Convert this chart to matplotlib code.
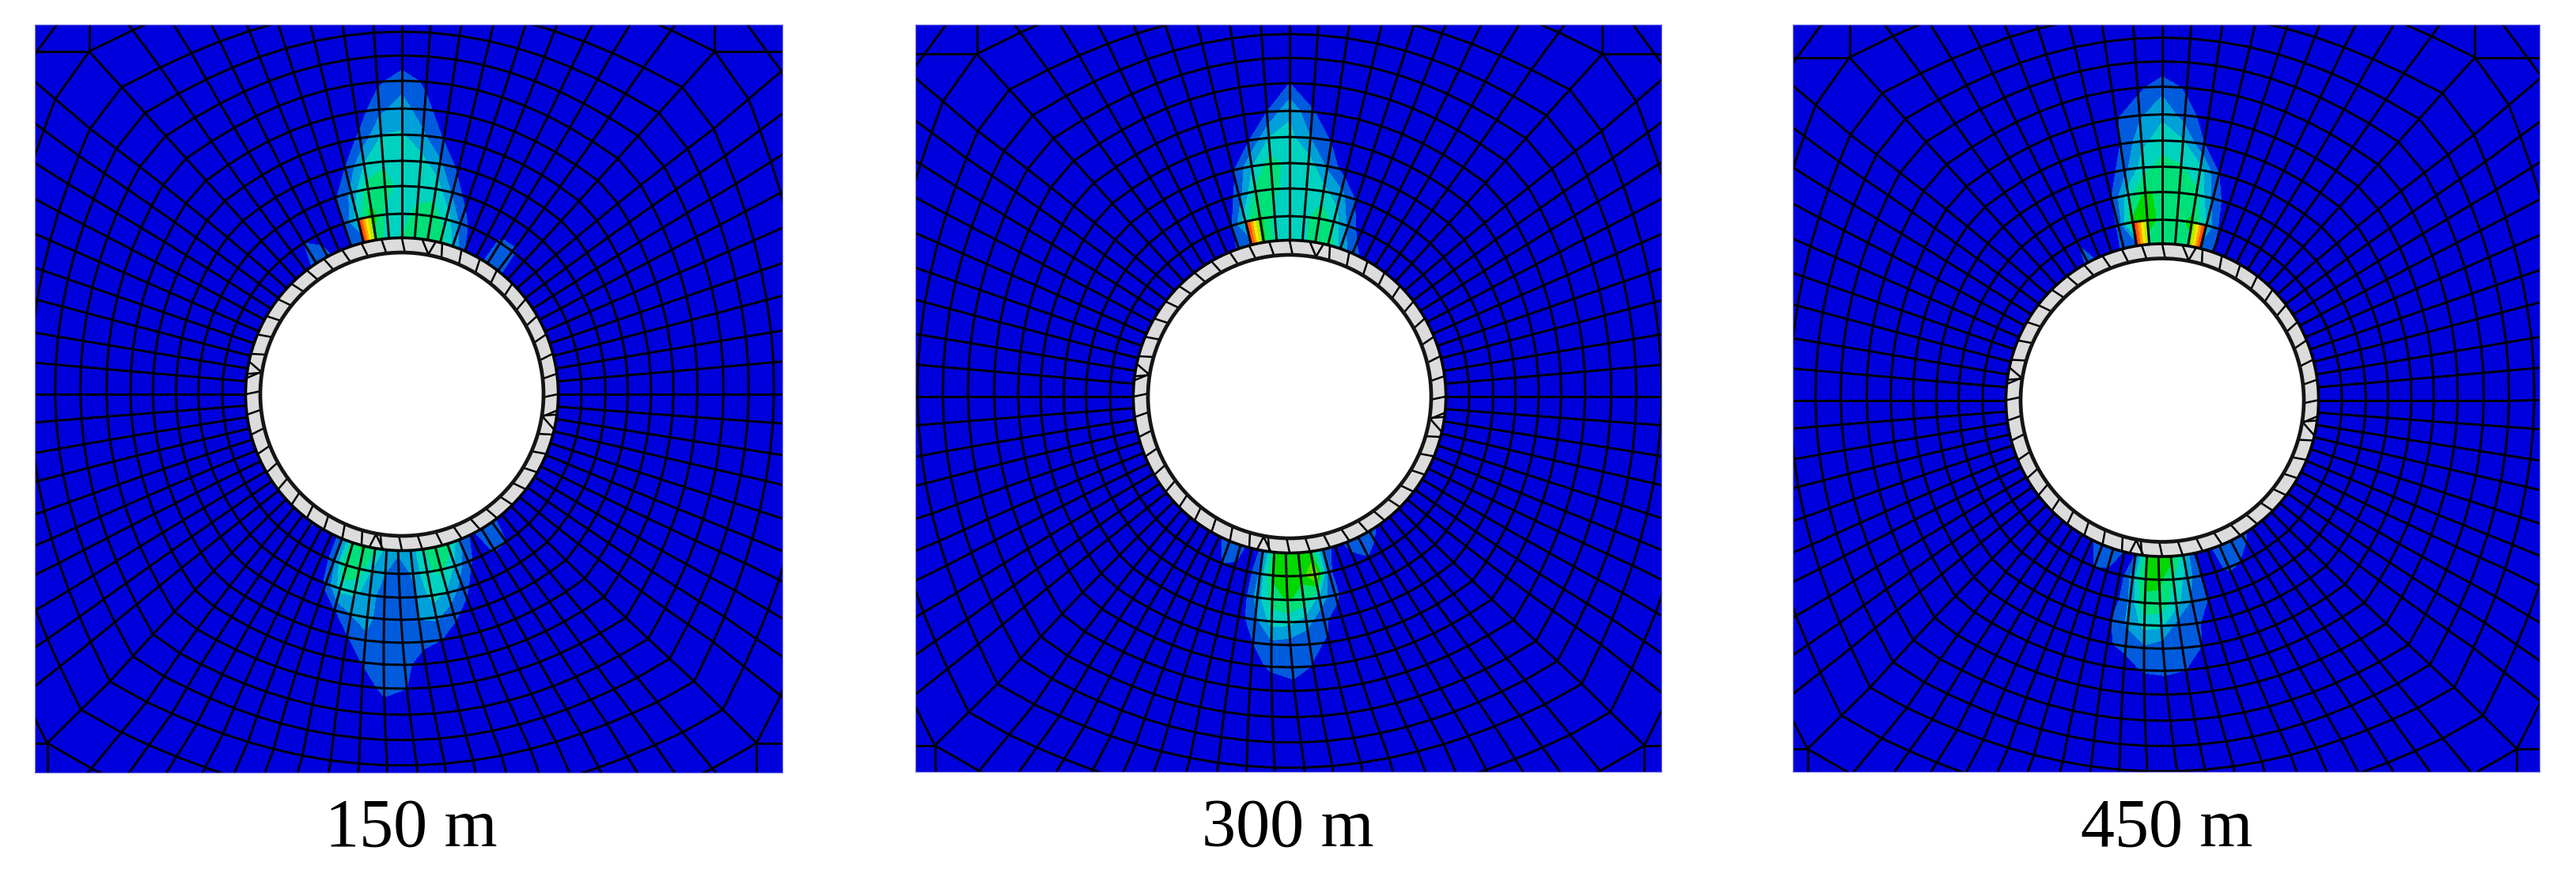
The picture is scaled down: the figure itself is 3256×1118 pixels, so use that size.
import numpy as np
import matplotlib
matplotlib.use("Agg")
import matplotlib.pyplot as plt

# подписи панелей
labels = ["150 m", "300 m", "450 m"]

# радиусы колец сетки (пиксели), сверху и снизу от тоннеля, и их сплющивание к углам
ring_top = [198, 228, 263, 295, 328, 361, 396, 428, 458, 490, 540, 580, 720]
ring_bottom = [198, 227, 257, 285, 314, 342, 372, 405, 437, 469, 516, 573, 720]
flat_top = [0, 0, 0.005, 0.02, 0.025, 0.034, 0.04, 0.055, 0.08, 0.108, 0.14, 0.15, 0.15]
flat_bottom = [0, 0.01, 0.02, 0.035, 0.045, 0.058, 0.075, 0.084, 0.09, 0.107, 0.105, 0.10, 0.10]

# углы лучей на границе панели, от верха по часовой стрелке до низа (правая половина)
spoke_angle = [0, 4.4, 9.1, 13.9, 18.5, 22.8, 27.3, 31.7, 36.5, 42.4,
               49.6, 53.6, 57.8, 62, 66.4, 71, 75.5, 80.5, 85.1, 90,
               94.4, 99.1, 103.4, 108.1, 112.4, 116.2, 120.5, 124.6, 128.5, 134.5,
               140.3, 144.2, 148.1, 152.2, 156.1, 160.1, 164.6, 169, 173.4, 177.7]
N_SPOKES = 79
# углы тех же лучей у обделки (опорные точки)
ring_idx = [0, 19, 39, 60, 79]
ring_ang = [0, 90, 181.4, 270, 360]

# номера лучей: над тоннелем слева направо и под тоннелем слева направо
top_spokes = list(range(-9, 10))
bottom_spokes = list(range(48, 29, -1))

# поле над тоннелем, строки - кольца от обделки наружу
top_150 = [
    [0, 0.6, 1.3, 1.2, 0.5, 1.0, 1.2, 4.8, 3.3, 4.0, 4.4, 4.5, 4.4, 2.8, 1.0, 0.4, 1.3, 1.3, 0.4],
    [0, 0.3, 1.0, 0.8, 0.4, 1.0, 3.5, 5.5, 3.5, 3.5, 4.4, 4.5, 3.6, 1.8, 0.3, 0.2, 1.2, 1.2, 0.2],
    [0, 0, 0, 0, 0, 0.8, 2.2, 4.5, 4.5, 3.5, 3.3, 3.6, 1.8, 0.4, 0, 0, 0, 0, 0],
    [0, 0, 0, 0, 0, 0.2, 1.0, 3.0, 3.8, 3.5, 3.4, 2.2, 0.7, 0, 0, 0, 0, 0, 0],
    [0, 0, 0, 0, 0, 0, 0.2, 1.2, 3.0, 3.1, 2.2, 0.9, 0.1, 0, 0, 0, 0, 0, 0],
    [0, 0, 0, 0, 0, 0, 0, 0.4, 1.7, 2.5, 1.3, 0.4, 0, 0, 0, 0, 0, 0, 0],
    [0, 0, 0, 0, 0, 0, 0, 0, 0.8, 1.5, 0.8, 0, 0, 0, 0, 0, 0, 0, 0],
    [0, 0, 0, 0, 0, 0, 0, 0, 0, 0.3, 0, 0, 0, 0, 0, 0, 0, 0, 0],
]
bottom_150 = [
    [0, 1.2, 0.3, 0.4, 1.5, 4.5, 5.2, 4.0, 2.6, 2.2, 2.4, 3.8, 4.8, 4.5, 2.2, 0.8, 1.3, 1.3, 0.5],
    [0, 0.3, 0, 0.2, 1.6, 5.0, 4.6, 2.8, 2.0, 1.2, 2.2, 3.8, 4.3, 2.8, 1.2, 0.5, 1.1, 1.0, 0.2],
    [0, 0, 0, 0, 1.2, 3.4, 3.2, 2.5, 1.3, 1.1, 1.8, 3.4, 2.8, 1.4, 0.3, 0, 0, 0, 0],
    [0, 0, 0, 0, 0.2, 0.9, 2.0, 2.3, 1.4, 1.2, 2.0, 2.2, 1.3, 0.4, 0, 0, 0, 0, 0],
    [0, 0, 0, 0, 0, 0.2, 0.9, 1.8, 1.9, 1.2, 1.1, 1.0, 0.3, 0, 0, 0, 0, 0, 0],
    [0, 0, 0, 0, 0, 0, 0.2, 1.1, 1.9, 1.1, 0.8, 0.1, 0, 0, 0, 0, 0, 0, 0],
    [0, 0, 0, 0, 0, 0, 0, 0.4, 1.3, 1.0, 0.1, 0, 0, 0, 0, 0, 0, 0, 0],
    [0, 0, 0, 0, 0, 0, 0, 0, 0.4, 0.2, 0, 0, 0, 0, 0, 0, 0, 0, 0],
]
top_300 = [
    [0, 0, 0, 0, 0.2, 1.2, 1.2, 5.2, 3.6, 3.3, 3.5, 4.8, 4.8, 2.6, 1.5, 0.6, 0.5, 0, 0],
    [0, 0, 0, 0, 0, 0.8, 3.6, 5.3, 3.6, 3.3, 3.6, 4.8, 3.6, 1.8, 0.4, 0, 0, 0, 0],
    [0, 0, 0, 0, 0, 0.2, 1.4, 4.2, 4.3, 3.4, 3.4, 3.3, 2.4, 0.8, 0, 0, 0, 0, 0],
    [0, 0, 0, 0, 0, 0, 0.8, 2.9, 4.5, 3.6, 3.5, 1.8, 0.4, 0, 0, 0, 0, 0, 0],
    [0, 0, 0, 0, 0, 0, 0.1, 0.8, 3.0, 3.3, 2.0, 0.9, 0.1, 0, 0, 0, 0, 0, 0],
    [0, 0, 0, 0, 0, 0, 0, 0.1, 1.0, 2.8, 1.1, 0.2, 0, 0, 0, 0, 0, 0, 0],
    [0, 0, 0, 0, 0, 0, 0, 0, 0.1, 1.0, 0.2, 0, 0, 0, 0, 0, 0, 0, 0],
    [0, 0, 0, 0, 0, 0, 0, 0, 0, 0, 0, 0, 0, 0, 0, 0, 0, 0, 0],
]
bottom_300 = [
    [0, 0, 0, 0.6, 2.0, 1.5, 0.3, 1.3, 4.9, 5.3, 5.3, 5.0, 2.0, 0.5, 1.2, 1.9, 1.6, 0.6, 0],
    [0, 0, 0, 0.2, 1.0, 0.8, 0.2, 2.2, 5.2, 5.3, 5.2, 7.5, 1.2, 0.2, 0.7, 0.9, 0.2, 0, 0],
    [0, 0, 0, 0, 0, 0, 0.3, 2.5, 4.4, 5.1, 4.6, 2.6, 1.3, 0, 0, 0, 0, 0, 0],
    [0, 0, 0, 0, 0, 0, 0.5, 1.7, 3.4, 3.3, 2.4, 1.2, 0.4, 0, 0, 0, 0, 0, 0],
    [0, 0, 0, 0, 0, 0, 0.3, 1.0, 1.7, 1.4, 1.2, 0.9, 0.1, 0, 0, 0, 0, 0, 0],
    [0, 0, 0, 0, 0, 0, 0, 0.6, 1.2, 1.4, 0.95, 0.1, 0, 0, 0, 0, 0, 0, 0],
    [0, 0, 0, 0, 0, 0, 0, 0, 0.3, 0.6, 0.4, 0, 0, 0, 0, 0, 0, 0, 0],
    [0, 0, 0, 0, 0, 0, 0, 0, 0, 0, 0, 0, 0, 0, 0, 0, 0, 0, 0],
]
top_450 = [
    [0, 0, 0, 1.3, 0.8, 0.5, 1.2, 1.3, 4.6, 4.3, 4.4, 4.6, 1.4, 1.0, 0.3, 0, 0, 0, 0],
    [0, 0, 0, 0.9, 0.3, 0.2, 1.1, 5.2, 5.4, 4.7, 4.6, 5.3, 3.0, 0.5, 0, 0, 0, 0, 0],
    [0, 0, 0, 0, 0, 0, 1.0, 3.5, 5.2, 4.7, 4.7, 4.2, 1.6, 0.4, 0, 0, 0, 0, 0],
    [0, 0, 0, 0, 0, 0, 0.3, 1.6, 3.6, 4.4, 4.1, 3.4, 1.0, 0, 0, 0, 0, 0, 0],
    [0, 0, 0, 0, 0, 0, 0.1, 1.0, 2.7, 3.5, 3.1, 1.0, 0.2, 0, 0, 0, 0, 0, 0],
    [0, 0, 0, 0, 0, 0, 0, 0.9, 1.8, 2.8, 1.5, 0.5, 0, 0, 0, 0, 0, 0, 0],
    [0, 0, 0, 0, 0, 0, 0, 0, 0.7, 1.6, 0.8, 0, 0, 0, 0, 0, 0, 0, 0],
    [0, 0, 0, 0, 0, 0, 0, 0, 0, 0.1, 0, 0, 0, 0, 0, 0, 0, 0, 0],
]
bottom_450 = [
    [0, 0, 0, 0.8, 2.0, 2.0, 0.9, 1.0, 5.0, 5.3, 5.3, 3.5, 0.3, 0.8, 1.3, 1.7, 1.5, 0.4, 0],
    [0, 0, 0, 0.5, 1.0, 0.8, 0.2, 2.5, 5.2, 5.3, 4.0, 2.5, 1.0, 0.6, 1.2, 0.9, 0, 0, 0],
    [0, 0, 0, 0, 0, 0, 0.5, 2.2, 4.8, 4.6, 3.4, 1.8, 1.0, 0.3, 0, 0, 0, 0, 0],
    [0, 0, 0, 0, 0, 0, 1.0, 2.2, 3.3, 3.2, 1.4, 1.2, 0.3, 0, 0, 0, 0, 0, 0],
    [0, 0, 0, 0, 0, 0, 0.9, 1.2, 1.8, 1.3, 1.2, 1.0, 0.1, 0, 0, 0, 0, 0, 0],
    [0, 0, 0, 0, 0, 0, 0.1, 0.6, 1.1, 1.1, 1.0, 0.1, 0, 0, 0, 0, 0, 0, 0],
    [0, 0, 0, 0, 0, 0, 0, 0, 0.2, 0.6, 0.4, 0, 0, 0, 0, 0, 0, 0, 0],
    [0, 0, 0, 0, 0, 0, 0, 0, 0, 0, 0, 0, 0, 0, 0, 0, 0, 0, 0],
]

# горячие элементы у обделки: левый луч, значения слева и справа
hot_150 = [(-3, 11.5, 6.0)]
hot_300 = [(-3, 11.5, 6.0)]
hot_450 = [(-2, 11.5, 6.5), (2, 6.0, 11.5)]

fields = [(top_150, bottom_150, hot_150),
          (top_300, bottom_300, hot_300),
          (top_450, bottom_450, hot_450)]

# уровни контура как в Abaqus
level_colors = ["#0000dc", "#005cdc", "#00a0d8", "#00d2c0", "#00e078", "#00d800",
                "#5adc00", "#b9eb00", "#ffe600", "#ffa000", "#ff5a00", "#f00000"]
levels = list(range(13))

W, H = 3256, 1118
# геометрия панелей в пикселях
panels = [(43.5, 989, 31, 976), (1157, 2100, 31, 975), (2266, 3210, 31, 975)]
centers = [(508, 498), (1630, 501), (2733, 505.5)]
label_x = [520, 1628, 2739]
label_y = 1069
LW = 2.1
# V-образные швы обделки: внешний и внутренний угол
lining_extra = [(12.5, 10.7), (7.5, 10.7), (187, 190.5), (192, 190.5),
                (96, 99), (103, 99), (276, 279), (282, 279)]


def mesh_point(i, n, center):
    m = n % N_SPOKES
    if m < len(spoke_angle):
        boundary = spoke_angle[m]
    else:
        boundary = 360 - spoke_angle[N_SPOKES - m]
    at_ring = np.interp(m, ring_idx, ring_ang)
    t = min((ring_bottom[i] - 198) / 271, 1)
    phi = np.radians(at_ring + (boundary - at_ring) * t)
    s = 1 / max(abs(np.cos(phi)), abs(np.sin(phi)))
    x_ = (s - 1) / 0.414
    w = ((1 + np.cos(phi)) / 2) ** 4
    base = ring_bottom[i] + (ring_top[i] - ring_bottom[i]) * w
    flat = flat_bottom[i] + (flat_top[i] - flat_bottom[i]) * w
    r = base * (1 + flat * x_)
    return center[0] + r * np.sin(phi), center[1] - r * np.cos(phi)


def grid(spokes, rows, center):
    xs = np.zeros((rows, len(spokes)))
    ys = np.zeros((rows, len(spokes)))
    for i in range(rows):
        for j, n in enumerate(spokes):
            xs[i, j], ys[i, j] = mesh_point(i, n, center)
    return xs, ys


def draw_panel(fig, p):
    panel, center = panels[p], centers[p]
    top, bottom, hot = fields[p]
    ax = fig.add_axes([panel[0] / W, 1 - panel[3] / H,
                       (panel[1] - panel[0]) / W, (panel[3] - panel[2]) / H])
    ax.set_xlim(panel[0], panel[1])
    ax.set_ylim(panel[3], panel[2])
    ax.set_facecolor(level_colors[0])
    ax.set_xticks([])
    ax.set_yticks([])
    for s in ax.spines.values():
        s.set_color("#7a7ae6")
        s.set_linewidth(0.8)

    # контуры поля
    for spokes, values in ((top_spokes, top), (bottom_spokes, bottom)):
        values = np.array(values)
        xs, ys = grid(spokes, values.shape[0], center)
        ax.contourf(xs, ys, values, levels=levels, colors=level_colors)
    for n, left, right in hot:
        xs, ys = grid([n, n + 1], 2, center)
        ax.contourf(xs, ys, [[left, right], [left, right]], levels=levels, colors=level_colors)

    # кольца сетки
    for i in range(len(ring_top) - 1):
        pts = [mesh_point(i, n, center) for n in range(N_SPOKES + 1)]
        ax.plot([q[0] for q in pts], [q[1] for q in pts], color="k", lw=LW)

    # лучи сетки; угловые лучи заканчиваются в узле
    corners = {9: 10, N_SPOKES - 9: 10, 29: 11, N_SPOKES - 29: 11}
    for n in range(N_SPOKES):
        last = corners.get(n, 12)
        pts = [mesh_point(i, n, center) for i in range(last + 1)]
        ax.plot([q[0] for q in pts], [q[1] for q in pts], color="k", lw=LW)
        if n in corners:
            nx, ny = pts[-1]
            ax.plot([nx, nx], [ny, panel[2] if ny < center[1] else panel[3]], color="k", lw=LW)
            ax.plot([nx, panel[0] if nx < center[0] else panel[1]], [ny, ny], color="k", lw=LW)

    # обделка тоннеля
    cx, cy = center
    ax.add_patch(plt.Circle(center, 197, fc="#dcdcdc", ec="k", lw=1.8, zorder=5))
    for deg in np.arange(48) * 7.5:
        if deg == 7.5:
            continue
        a = np.radians(deg)
        ax.plot([cx + 197 * np.sin(a), cx + 180 * np.sin(a + 0.02)],
                [cy - 197 * np.cos(a), cy - 180 * np.cos(a + 0.02)],
                color="k", lw=1.8, zorder=6)
    for outer, inner in lining_extra:
        a, b = np.radians(outer), np.radians(inner)
        ax.plot([cx + 197 * np.sin(a), cx + 180 * np.sin(b)],
                [cy - 197 * np.cos(a), cy - 180 * np.cos(b)],
                color="k", lw=1.8, zorder=6)
    ax.add_patch(plt.Circle(center, 179, fc="white", ec="#151515", lw=3.4, zorder=7))

    fig.text(label_x[p] / W, 1 - label_y / H, labels[p], ha="center", va="baseline",
             family="Liberation Serif", fontsize=62, color="k")


fig = plt.figure(figsize=(W / 100, H / 100), dpi=100, facecolor="white")
for p in range(3):
    draw_panel(fig, p)

plt.savefig("out.png", dpi=100)
plt.close()
